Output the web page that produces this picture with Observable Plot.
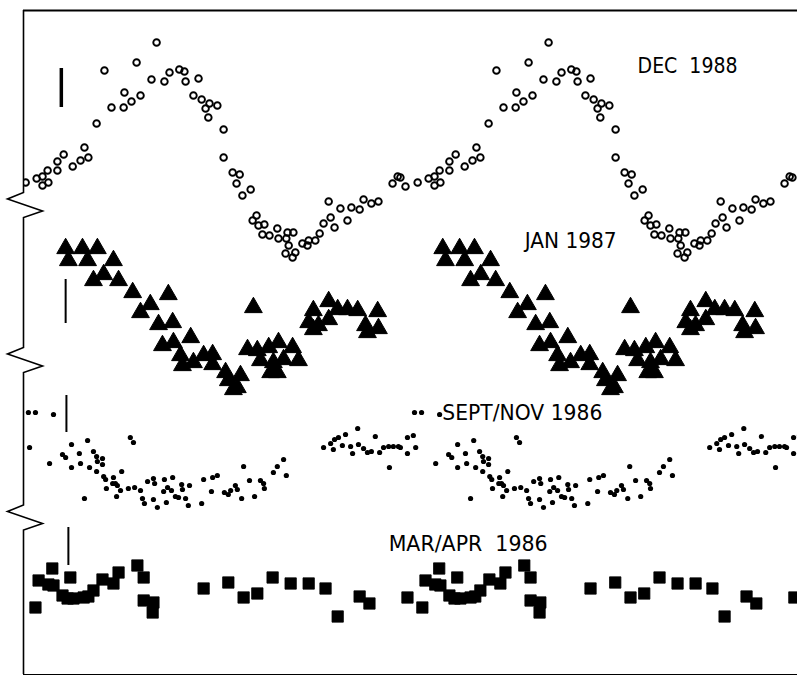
<!DOCTYPE html>
<html><head><meta charset="utf-8">
<script src="https://cdn.jsdelivr.net/npm/d3@7"></script>
<script src="https://cdn.jsdelivr.net/npm/@observablehq/plot@0.6"></script>
<style>html,body{margin:0;padding:0;background:#fff;overflow:hidden;} #chart svg{display:block;}</style>
</head><body><div id="chart"></div>
<script>
// [phase, relative magnitude] (one cycle; plotted twice)
const dec1988 = [
[0.000,1.86],[0.031,1.82],[0.059,1.78],[0.074,1.76],[0.074,1.85],[0.089,1.82],[0.087,1.70],[0.112,1.70],[0.112,1.61],[0.128,1.54],
[0.151,1.66],[0.171,1.60],[0.181,1.47],[0.191,1.57],[0.212,1.23],[0.232,0.70],[0.250,1.07],[0.281,1.07],[0.283,0.92],[0.301,1.01],
[0.324,0.95],[0.314,0.62],[0.365,0.42],[0.352,0.79],[0.385,0.81],[0.398,0.72],[0.423,0.69],[0.436,0.71],[0.439,0.81],[0.472,0.78],
[0.459,0.95],[0.480,0.99],[0.490,1.08],[0.500,1.03],[0.497,1.17],[0.520,1.05],[0.536,1.29],[0.536,1.57],[0.559,1.72],[0.577,1.74],
[0.569,1.83],[0.605,1.89],[0.584,1.95],[0.610,2.20],[0.620,2.15],[0.625,2.25],[0.640,2.24],[0.635,2.34],[0.653,2.35],[0.673,2.28],
[0.676,2.38],[0.699,2.32],[0.696,2.38],[0.714,2.32],[0.702,2.45],[0.694,2.53],[0.712,2.57],[0.719,2.52],[0.737,2.43],[0.750,2.45],
[0.753,2.40],[0.770,2.40],[0.781,2.33],[0.791,2.23],[0.809,2.17],[0.819,2.27],[0.804,2.01],[0.834,2.08],[0.852,2.20],[0.862,2.07],
[0.883,2.09],[0.893,1.99],[0.913,2.03],[0.931,2.01],[0.967,1.83],[0.980,1.76],[0.987,1.77]
];
const jan1987 = [
[0.133,2.48],[0.176,2.48],[0.214,2.48],[0.140,2.60],[0.189,2.60],[0.255,2.60],[0.204,2.80],[0.230,2.74],[0.268,2.80],[0.304,2.92],
[0.395,2.94],[0.349,3.04],[0.324,3.12],[0.370,3.24],[0.406,3.22],[0.452,3.37],[0.380,3.45],[0.408,3.42],[0.426,3.55],[0.431,3.65],
[0.459,3.62],[0.485,3.55],[0.508,3.54],[0.508,3.64],[0.541,3.72],[0.548,3.80],[0.561,3.89],[0.579,3.75],[0.571,3.87],[0.612,3.07],
[0.597,3.49],[0.622,3.50],[0.651,3.47],[0.676,3.42],[0.712,3.47],[0.630,3.60],[0.663,3.62],[0.689,3.59],[0.727,3.60],[0.656,3.72],
[0.673,3.72],[0.753,3.22],[0.765,3.10],[0.778,3.25],[0.804,3.01],[0.804,3.19],[0.827,3.09],[0.852,3.09],[0.878,3.10],[0.898,3.25],
[0.929,3.11],[0.931,3.28],[0.903,3.32],[0.765,3.29]
];
const septNov1986 = [
[0.038,4.12],[0.056,4.12],[0.102,4.14],[0.041,4.47],[0.298,4.37],[0.306,4.42],[0.092,4.63],[0.125,4.54],[0.133,4.57],[0.148,4.44],
[0.168,4.53],[0.189,4.40],[0.148,4.67],[0.171,4.63],[0.194,4.67],[0.204,4.51],[0.212,4.56],[0.214,4.61],[0.227,4.58],[0.227,4.64],
[0.212,4.71],[0.230,4.76],[0.235,4.79],[0.255,4.77],[0.260,4.83],[0.253,4.83],[0.276,4.71],[0.237,4.88],[0.265,4.85],[0.273,4.90],
[0.263,4.96],[0.181,4.98],[0.293,4.88],[0.309,4.87],[0.324,4.90],[0.342,4.81],[0.357,4.78],[0.360,4.83],[0.385,4.79],[0.406,4.77],
[0.329,4.98],[0.334,5.03],[0.357,4.99],[0.367,5.07],[0.390,5.02],[0.383,4.91],[0.393,4.87],[0.403,4.90],[0.413,4.96],[0.421,4.97],
[0.429,4.84],[0.431,4.89],[0.449,4.85],[0.439,4.98],[0.446,5.05],[0.480,5.03],[0.485,4.79],[0.508,4.77],[0.520,4.75],[0.505,4.91],
[0.538,4.92],[0.548,4.94],[0.554,4.90],[0.566,4.85],[0.571,4.89],[0.582,4.98],[0.587,4.66],[0.602,4.80],[0.615,4.96],[0.630,4.80],
[0.638,4.83],[0.640,4.88],[0.663,4.72],[0.673,4.66],[0.689,4.59],[0.696,4.75],
[0.791,4.47],[0.809,4.43],[0.816,4.49],[0.819,4.39],[0.829,4.37],[0.839,4.45],[0.847,4.34],[0.860,4.46],[0.865,4.53],[0.878,4.28],
[0.880,4.44],[0.893,4.48],[0.903,4.52],[0.913,4.51],[0.923,4.36],[0.934,4.52],[0.944,4.47],[0.957,4.46],[0.959,4.67],[0.969,4.46],
[0.982,4.46],[0.987,4.47],[1.005,4.37],[1.020,4.35],[1.005,4.53]
];
const marApr1986 = [
[0.056,6.07],[0.064,5.80],[0.099,5.68],[0.145,5.77],[0.102,5.85],[0.089,5.84],[0.125,5.95],[0.138,5.98],[0.153,5.98],[0.179,5.97],
[0.191,5.96],[0.204,5.90],[0.227,5.79],[0.255,5.83],[0.268,5.72],[0.316,5.65],[0.332,5.77],[0.332,6.00],[0.357,6.02],[0.355,6.12],
[0.485,5.88],[0.548,5.82],[0.587,5.97],[0.622,5.93],[0.661,5.77],[0.707,5.83],[0.753,5.83],[0.796,5.88],[0.827,6.16],[0.883,5.96],
[0.908,6.03],[1.005,5.97]
];
// phase shift of the repeated cycle for each epoch (as drawn)
const cycleShift = [1.000, 0.962, 0.985, 0.987];
// labels
const labelText = ["DEC\u00a0\u00a01988", "JAN 1987", "SEPT/NOV 1986", "MAR/APR\u00a0\u00a01986"];
const labelPhase = [1.592, 1.304, 1.094, 0.957];
const labelMag = [0.72, 2.47, 4.19, 5.50];
// error bars
const errPhase = [0.122, 0.133, 0.135, 0.140];
const errTop = [0.68, 2.79, 3.95, 5.27];
const errBottom = [1.07, 3.23, 4.32, 5.65];
// axis breaks (magnitude offsets between epochs)
const axisBreaks = [2.05, 3.60, 5.175];
const phaseDomain = [0.0255, 2.0];
const magDomain = [6.74, 0.10];

const twoCycles = (data, shift) => data.flatMap(([p, m]) => [{p, m}, {p: p + shift, m}]);
const rowsDec = twoCycles(dec1988, cycleShift[0]);
const rowsJan = twoCycles(jan1987, cycleShift[1]);
const rowsSept = twoCycles(septNov1986, cycleShift[2]);
const rowsMar = twoCycles(marApr1986, cycleShift[3]);
const errRows = errPhase.map((p, i) => ({p, y1: errTop[i], y2: errBottom[i], w: i === 0 ? 3.5 : 2}));
const labelRows = labelText.map((t, i) => ({t, p: labelPhase[i], m: labelMag[i]}));

const plot = Plot.plot({
  width: 797, height: 675,
  marginLeft: 23, marginRight: 0, marginTop: 10, marginBottom: 1,
  x: {domain: phaseDomain, axis: null},
  y: {domain: magDomain, axis: null},
  style: {background: "white"},
  marks: [
    Plot.ruleY([magDomain[1]], {stroke: "black", strokeWidth: 1.8}),
    Plot.ruleY([magDomain[0]], {stroke: "black", strokeWidth: 1}),
    Plot.ruleX(errRows, {x: "p", y1: "y1", y2: "y2", stroke: "black", strokeWidth: d => d.w}),
    Plot.dot(rowsDec, {x: "p", y: "m", r: 3.3, fill: "none", stroke: "black", strokeWidth: 1.9, clip: true}),
    Plot.dot(rowsJan, {x: "p", y: "m", symbol: "triangle", r: 6.6, fill: "black", stroke: "black", strokeWidth: 1, strokeLinejoin: "round", clip: true}),
    Plot.dot(rowsSept, {x: "p", y: "m", r: 2.6, fill: "black", stroke: "none", clip: true}),
    Plot.dot(rowsMar, {x: "p", y: "m", symbol: "square", r: 6.4, fill: "black", stroke: "black", strokeWidth: 0.8, strokeLinejoin: "round", clip: true}),
    Plot.text(labelRows, {x: "p", y: "m", text: "t", textAnchor: "start", lineAnchor: "bottom", fontSize: 22, fontFamily: "DejaVu Sans", fill: "black"})
  ]
});

// condense label text to the widths seen in the figure
const labelWidths = [100, 92, 160, 159];
d3.select(plot).selectAll("text").each(function(d, i) {
  this.setAttribute("textLength", labelWidths[i]);
  this.setAttribute("lengthAdjust", "spacingAndGlyphs");
});

// broken left axis with zigzag marks at each break
const ys = plot.scale("y"), xs = plot.scale("x");
const x0 = xs.apply(phaseDomain[0]) + 0.5;
const pts = [[x0, ys.apply(magDomain[1])]];
for (const b of axisBreaks) {
  const c = ys.apply(b);
  pts.push([x0, c - 12.5], [x0 - 16, c - 6], [x0 + 19, c + 6], [x0, c + 12.5]);
}
pts.push([x0, ys.apply(magDomain[0])]);
d3.select(plot).append("path").attr("d", d3.line()(pts)).attr("fill", "none")
  .attr("stroke", "black").attr("stroke-width", 1.6).attr("stroke-linejoin", "miter");

document.getElementById("chart").appendChild(plot);
</script>
</body></html>
